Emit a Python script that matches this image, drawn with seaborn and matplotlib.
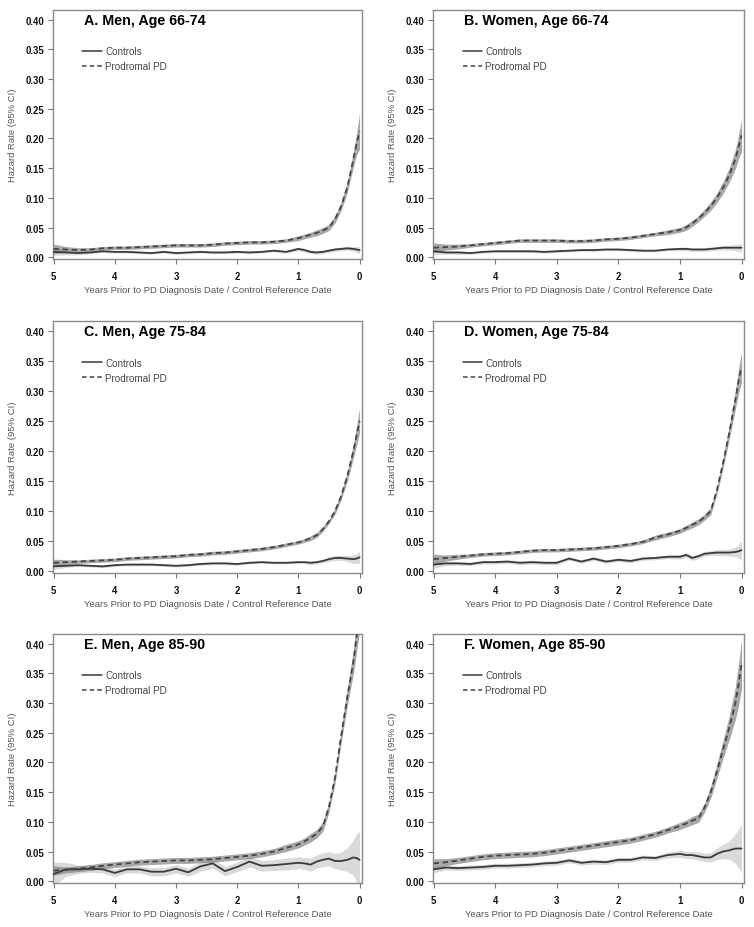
import numpy as np
import pandas as pd
import matplotlib.pyplot as plt
import seaborn as sns

# --- Data ---
years = [5.0, 4.8, 4.6, 4.4, 4.2,
         4.0, 3.8, 3.6, 3.4, 3.2,
         3.0, 2.8, 2.6, 2.4, 2.2,
         2.0, 1.8, 1.6, 1.4, 1.2,
         1.0, 0.9, 0.8, 0.7, 0.6,
         0.5, 0.4, 0.3, 0.2, 0.1,
         0.05, 0.0]

titles = ["A. Men, Age 66-74", "B. Women, Age 66-74",
          "C. Men, Age 75-84", "D. Women, Age 75-84",
          "E. Men, Age 85-90", "F. Women, Age 85-90"]
groups = ["Controls", "Prodromal PD"]

# A. Men 66-74
a_pd = [.014, .013, .012, .013, .015, .016, .016, .017, .018, .019,
        .020, .020, .020, .021, .023, .024, .025, .025, .026, .028,
        .032, .035, .038, .041, .045, .050, .064, .086, .118, .165,
        .190, .212]
a_pd_ci = [.008, .005, .004, .003, .003, .003, .003, .003, .003, .003,
           .003, .003, .003, .003, .003, .003, .003, .003, .003, .003,
           .004, .004, .004, .005, .005, .005, .006, .007, .009, .013,
           .018, .030]
a_ctl = [.009, .008, .007, .008, .010, .009, .009, .008, .007, .009,
         .007, .008, .009, .008, .008, .009, .008, .009, .011, .009,
         .014, .012, .009, .008, .009, .011, .013, .014, .015, .014,
         .013, .012]
a_ctl_ci = [.006, .004, .003, .002, .002, .002, .002, .002, .002, .002,
            .002, .002, .002, .002, .002, .002, .002, .002, .002, .002,
            .003, .003, .003, .003, .003, .003, .003, .003, .003, .004,
            .005, .006]

# B. Women 66-74
b_pd = [.016, .017, .018, .020, .022, .024, .026, .028, .028, .028,
        .028, .027, .027, .028, .030, .031, .033, .036, .039, .042,
        .046, .050, .057, .065, .075, .086, .100, .117, .138, .165,
        .185, .205]
b_pd_ci = [.008, .005, .004, .003, .003, .003, .003, .003, .003, .003,
           .003, .003, .003, .003, .003, .003, .003, .003, .003, .004,
           .004, .005, .005, .005, .006, .007, .008, .010, .012, .016,
           .020, .027]
b_ctl = [.010, .008, .008, .007, .009, .010, .010, .010, .010, .009,
         .010, .011, .012, .012, .013, .013, .012, .011, .011, .013,
         .014, .014, .013, .013, .013, .014, .015, .016, .016, .016,
         .016, .016]
b_ctl_ci = [.005, .003, .003, .002, .002, .002, .002, .002, .002, .002,
            .002, .002, .002, .002, .002, .002, .002, .002, .002, .002,
            .003, .003, .003, .003, .003, .003, .003, .004, .004, .005,
            .006, .007]

# C. Men 75-84
c_pd = [.014, .015, .016, .017, .018, .019, .021, .022, .023, .024,
        .025, .027, .028, .030, .031, .033, .035, .037, .040, .044,
        .048, .051, .055, .060, .070, .083, .100, .125, .158, .200,
        .225, .250]
c_pd_ci = [.006, .004, .003, .003, .003, .003, .003, .003, .003, .003,
           .003, .003, .003, .003, .003, .003, .003, .003, .003, .003,
           .003, .003, .004, .004, .004, .004, .005, .006, .008, .012,
           .016, .020]
c_ctl = [.008, .009, .010, .009, .008, .010, .011, .011, .011, .010,
         .009, .010, .012, .013, .013, .012, .014, .015, .014, .014,
         .015, .015, .014, .015, .017, .020, .022, .022, .021, .020,
         .021, .023]
c_ctl_ci = [.005, .003, .002, .002, .002, .002, .002, .002, .002, .002,
            .002, .002, .002, .002, .002, .002, .002, .002, .002, .002,
            .002, .002, .003, .003, .003, .004, .004, .004, .005, .007,
            .008, .010]

# D. Women 75-84
d_pd = [.020, .022, .024, .026, .028, .029, .030, .032, .034, .035,
        .035, .036, .037, .038, .040, .042, .045, .049, .056, .061,
        .067, .072, .077, .082, .090, .100, .135, .180, .230, .285,
        .315, .340]
d_pd_ci = [.008, .005, .004, .003, .003, .003, .003, .003, .003, .003,
           .003, .003, .003, .003, .003, .003, .003, .003, .004, .004,
           .004, .004, .005, .005, .005, .006, .007, .009, .011, .015,
           .020, .025]
d_ctl = [.011, .013, .013, .012, .015, .015, .016, .014, .015, .014,
         .014, .021, .016, .021, .016, .019, .017, .021, .022, .024,
         .024, .027, .022, .025, .029, .030, .031, .031, .031, .032,
         .033, .035]
d_ctl_ci = [.006, .004, .003, .003, .003, .003, .003, .003, .003, .003,
            .003, .003, .003, .003, .003, .003, .003, .003, .003, .003,
            .004, .004, .004, .004, .004, .004, .005, .005, .006, .008,
            .011, .016]

# E. Men 85-90
e_pd = [.018, .019, .021, .023, .026, .028, .030, .032, .033, .034,
        .035, .035, .036, .037, .039, .041, .043, .046, .050, .056,
        .062, .067, .073, .080, .092, .125, .175, .245, .310, .370,
        .410, .450]
e_pd_ci = [.008, .005, .005, .005, .005, .005, .005, .005, .005, .005,
           .005, .005, .005, .005, .005, .005, .005, .005, .005, .006,
           .006, .006, .007, .007, .008, .009, .010, .012, .015, .020,
           .025, .030]
e_ctl = [.012, .020, .020, .021, .020, .014, .020, .020, .016, .016,
         .021, .015, .025, .030, .017, .024, .033, .026, .027, .029,
         .031, .030, .028, .033, .036, .038, .034, .034, .036, .040,
         .039, .036]
e_ctl_ci = [.020, .012, .007, .006, .006, .006, .006, .006, .007, .007,
            .007, .007, .008, .008, .008, .008, .009, .009, .009, .010,
            .010, .010, .011, .011, .012, .012, .013, .015, .020, .030,
            .040, .048]

# F. Women 85-90
f_pd = [.030, .032, .035, .038, .041, .043, .044, .045, .046, .048,
        .051, .054, .057, .060, .063, .066, .069, .074, .079, .086,
        .093, .097, .102, .106, .124, .150, .185, .222, .258, .300,
        .330, .365]
f_pd_ci = [.008, .006, .005, .005, .005, .005, .005, .005, .005, .005,
           .005, .005, .005, .005, .005, .005, .005, .005, .005, .005,
           .006, .006, .007, .007, .008, .010, .012, .015, .020, .028,
           .035, .042]
f_ctl = [.020, .023, .022, .023, .024, .026, .026, .027, .028, .030,
         .031, .035, .031, .033, .032, .036, .036, .040, .039, .044,
         .046, .044, .044, .042, .040, .040, .046, .050, .052, .055,
         .055, .055]
f_ctl_ci = [.006, .004, .004, .004, .004, .004, .004, .004, .004, .004,
            .004, .004, .004, .004, .004, .004, .004, .004, .004, .005,
            .006, .006, .006, .007, .007, .008, .010, .012, .015, .025,
            .032, .040]

panels = [
    (a_ctl, a_ctl_ci, a_pd, a_pd_ci),
    (b_ctl, b_ctl_ci, b_pd, b_pd_ci),
    (c_ctl, c_ctl_ci, c_pd, c_pd_ci),
    (d_ctl, d_ctl_ci, d_pd, d_pd_ci),
    (e_ctl, e_ctl_ci, e_pd, e_pd_ci),
    (f_ctl, f_ctl_ci, f_pd, f_pd_ci),
]

# --- Style ---
sns.set_style("white")
plt.rcParams['font.family'] = ['Liberation Sans', 'DejaVu Sans']

W, H = 754, 928
fig = plt.figure(figsize=(W / 100, H / 100), dpi=100)

# axes boxes in pixels: (left, top, width, height)
col_left = [53, 433]
col_width = [309, 311]
row_top = [11, 322, 635]
row_height = [249, 252, 249]

line_col = {"Controls": "#3a3a3a", "Prodromal PD": "#454545"}
band_col = {"Controls": ("#bdbdbd", 0.55), "Prodromal PD": ("#7a7a7a", 0.65)}

x = np.array(years)
for i, (ctl, ctl_ci, pdv, pd_ci) in enumerate(panels):
    r, c = divmod(i, 2)
    left, top = col_left[c], row_top[r]
    w, h = col_width[c], row_height[r]
    ax = fig.add_axes([left / W, (H - top - h) / H, w / W, h / H])

    # confidence bands
    for name, val, ci in [("Controls", ctl, ctl_ci), ("Prodromal PD", pdv, pd_ci)]:
        val, ci = np.array(val), np.array(ci)
        col, alpha = band_col[name]
        ax.fill_between(x, val - ci, val + ci, color=col, alpha=alpha,
                        linewidth=0, zorder=1)

    df = pd.DataFrame({
        "years": years * 2,
        "rate": list(ctl) + list(pdv),
        "group": ["Controls"] * len(years) + ["Prodromal PD"] * len(years),
    })
    sns.lineplot(data=df, x="years", y="rate", hue="group", style="group",
                 palette=line_col, dashes={"Controls": "", "Prodromal PD": (3, 2)},
                 estimator=None, sort=False, linewidth=1.3, ax=ax, zorder=3)

    leg = ax.get_legend()
    handles = leg.legend_handles
    labels = [t.get_text() for t in leg.get_texts()]
    for hd in handles:
        hd.set_linewidth(1.1)
    ax.legend(handles, labels, loc="upper left", bbox_to_anchor=(0.095, 0.854),
              frameon=False, fontsize=7.1, handlelength=2.0, handletextpad=0.3,
              labelspacing=0.5, borderpad=0, borderaxespad=0, labelcolor="#444444")

    ax.text(4.51, 0.40, titles[i], fontsize=10.3, fontweight="bold",
            ha="left", va="center", color="black")

    ax.set_xlim(5.01, -0.04)
    ax.set_ylim(-0.003, 0.416)
    ax.set_xticks([5, 4, 3, 2, 1, 0])
    ax.set_xticklabels(["5", "4", "3", "2", "1", "0"])
    yt = np.arange(0, 0.401, 0.05)
    ax.set_yticks(yt)
    ax.set_yticklabels([f"{v:.2f}" for v in yt])
    for lab in ax.get_xticklabels() + ax.get_yticklabels():
        lab.set_fontweight("bold")
        lab.set_fontsize(6.9)
        lab.set_color("#111111")

    ax.tick_params(axis="both", direction="out", length=3.5, width=0.8,
                   color="#777777", left=True, bottom=True)
    ax.tick_params(axis="x", pad=5)
    ax.tick_params(axis="y", pad=3)
    for sp in ax.spines.values():
        sp.set_color("#8a8a8a")
        sp.set_linewidth(1.0)

    ax.set_xlabel("Years Prior to PD Diagnosis Date / Control Reference Date",
                  fontsize=6.8, color="#555555", labelpad=3)
    ax.set_ylabel("Hazard Rate (95% CI)", fontsize=6.8, color="#555555", labelpad=6)

fig.savefig("out.png", dpi=100)
